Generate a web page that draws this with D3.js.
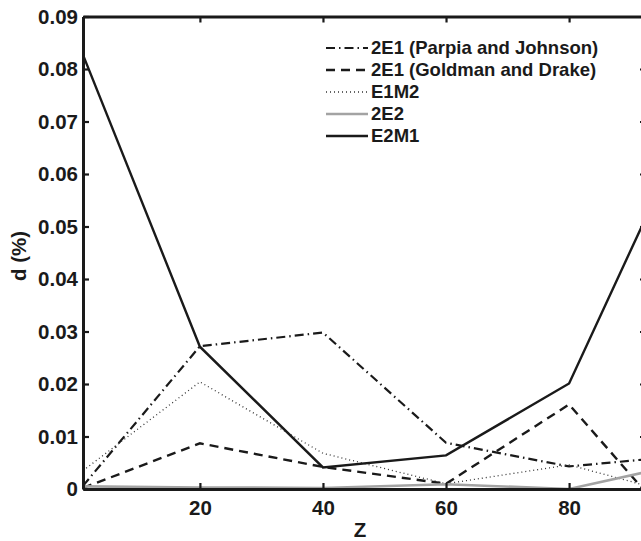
<!DOCTYPE html>
<html>
<head>
<meta charset="utf-8">
<script src="https://cdn.jsdelivr.net/npm/d3@7"></script>
<style>
  html, body { margin: 0; padding: 0; background: #fff; }
  svg { display: block; }
  text { font-family: "Liberation Sans", Arial, Helvetica, sans-serif; font-weight: bold; fill: #1a1a1a; }
</style>
</head>
<body>
<svg id="chart" width="641" height="541"></svg>
<script>
// Atomic number Z and relative differences d (%) for each transition
const zValues = [1, 20, 40, 60, 80, 92];
const parpia  = [0.0006, 0.0272, 0.0298, 0.0088, 0.0043, 0.0056];
const goldman = [0.0002, 0.0087, 0.0042, 0.0010, 0.0161, 0.0000];
const e1m2    = [0.0035, 0.0204, 0.0068, 0.0010, 0.0046, 0.0008];
const e2      = [0.0005, 0.0003, 0.0002, 0.0009, 0.0000, 0.0031];
const e2m1    = [0.0827, 0.0271, 0.0041, 0.0064, 0.0201, 0.0505];

const seriesNames = ["2E1 (Parpia and Johnson)", "2E1 (Goldman and Drake)", "E1M2", "2E2", "E2M1"];
const xTicks = [20, 40, 60, 80];
const yTicks = [0, 0.01, 0.02, 0.03, 0.04, 0.05, 0.06, 0.07, 0.08, 0.09];

const series = [
  { name: seriesNames[0], values: parpia,  color: "#1a1a1a", width: 2.2, dash: "9,4,1.5,4" },
  { name: seriesNames[1], values: goldman, color: "#1a1a1a", width: 2.4, dash: "9,6" },
  { name: seriesNames[2], values: e1m2,    color: "#333",    width: 1.3, dash: "1,3" },
  { name: seriesNames[3], values: e2,      color: "#a3a3a3", width: 2.6, dash: null },
  { name: seriesNames[4], values: e2m1,    color: "#1a1a1a", width: 2.4, dash: null }
];

const svg = d3.select("#chart");
const x = d3.scaleLinear().domain([1, 92.5]).range([83, 646]);
const y = d3.scaleLinear().domain([0, 0.09]).range([489, 16.5]);

const g = svg.append("g");

// Data lines
const line = d3.line().x((d, i) => x(zValues[i])).y(d => y(d));
series.forEach(s => {
  g.append("path")
    .datum(s.values)
    .attr("fill", "none")
    .attr("stroke", s.color)
    .attr("stroke-width", s.width)
    .attr("stroke-dasharray", s.dash)
    .attr("stroke-linejoin", "miter")
    .attr("d", line);
});

// Axes with inward ticks on all four sides
const fmtY = v => v === 0 ? "0" : d3.format(".2f")(v);
const axL = d3.axisLeft(y).tickValues(yTicks).tickSizeInner(-6).tickSizeOuter(0).tickPadding(5).tickFormat(fmtY);
const axR = d3.axisRight(y).tickValues(yTicks).tickSizeInner(-6).tickSizeOuter(0).tickFormat("");
const axB = d3.axisBottom(x).tickValues(xTicks).tickSizeInner(-6).tickSizeOuter(0).tickPadding(11);
const axT = d3.axisTop(x).tickValues(xTicks).tickSizeInner(-6).tickSizeOuter(0).tickFormat("");

function style(sel) {
  sel.select(".domain").attr("stroke", "#1a1a1a").attr("stroke-width", 3);
  sel.selectAll(".tick line").attr("stroke", "#1a1a1a").attr("stroke-width", 2.2);
  sel.selectAll(".tick text").attr("font-size", 20.5).attr("fill", "#1a1a1a")
     .attr("font-family", "'Liberation Sans', Arial, sans-serif").attr("font-weight", "bold");
}
svg.append("g").attr("transform", `translate(${x.range()[0]},0)`).call(axL).call(style);
svg.append("g").attr("transform", `translate(${x.range()[1]},0)`).call(axR).call(style);
svg.append("g").attr("transform", `translate(0,${y.range()[0]})`).call(axB).call(style);
svg.append("g").attr("transform", `translate(0,${y.range()[1]})`).call(axT).call(style);

// Axis titles
svg.append("text").attr("x", 360).attr("y", 537).attr("text-anchor", "middle")
  .attr("font-size", 20.5).text("Z");
svg.append("text").attr("transform", "translate(26,256) rotate(-90)")
  .attr("text-anchor", "middle").attr("font-size", 20.5).text("d (%)");

// Legend
const legend = svg.append("g");
series.forEach((s, i) => {
  const ly = 48 + i * 22;
  legend.append("line")
    .attr("x1", 326).attr("x2", 368).attr("y1", ly).attr("y2", ly)
    .attr("stroke", s.color).attr("stroke-width", s.width)
    .attr("stroke-dasharray", s.dash);
  legend.append("text").attr("x", 371).attr("y", ly).attr("dy", "0.35em")
    .attr("font-size", 18.5).text(s.name);
});
</script>
</body>
</html>
